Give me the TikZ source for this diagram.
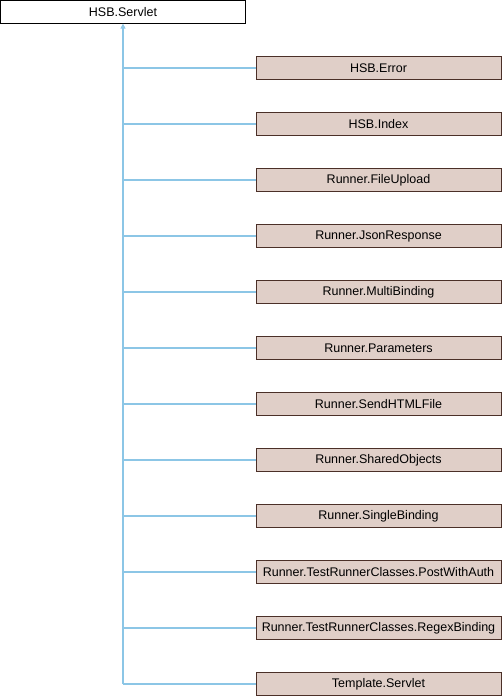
\documentclass[tikz,border=0pt]{standalone}
\usepackage{fontspec}
\setmainfont{Liberation Sans}
\usetikzlibrary{arrows.meta}
\definecolor{edgeblue}{RGB}{140,198,230}
\definecolor{childfill}{RGB}{224,207,200}
\definecolor{childline}{RGB}{75,48,40}
\tikzset{
  basebox/.style={draw=black, thick, fill=white, minimum width=245pt, minimum height=23pt, inner sep=0pt, font=\fontsize{12.5}{14}\selectfont},
  childbox/.style={draw=childline, thick, fill=childfill, minimum width=245pt, minimum height=23pt, inner sep=0pt, font=\fontsize{12.5}{14}\selectfont},
  inh/.style={draw=edgeblue, line width=1.5pt}
}
\begin{document}
\begin{tikzpicture}[x=1pt,y=-1pt]
\useasboundingbox (0,0) rectangle (502,696);
\node [basebox] (servlet) at (123,11.75) {HSB.Servlet};
\foreach \name [count=\i] in {HSB.Error, HSB.Index, Runner.FileUpload, Runner.JsonResponse,
  Runner.MultiBinding, Runner.Parameters, Runner.SendHTMLFile, Runner.SharedObjects,
  Runner.SingleBinding, Runner.TestRunnerClasses.PostWithAuth,
  Runner.TestRunnerClasses.RegexBinding, Template.Servlet}
{
  \node [childbox] (c\i) at (378.5,{68+56*(\i-1)}) {\name};
  \draw [inh] (c\i.west) -- (c\i.west -| servlet.south);
}
\draw [inh, line width=1.2pt, -{Triangle[open, length=5pt, width=5pt, fill=edgeblue!60]}] (c12.west -| servlet.south) -- (servlet.south);
\end{tikzpicture}
\end{document}
